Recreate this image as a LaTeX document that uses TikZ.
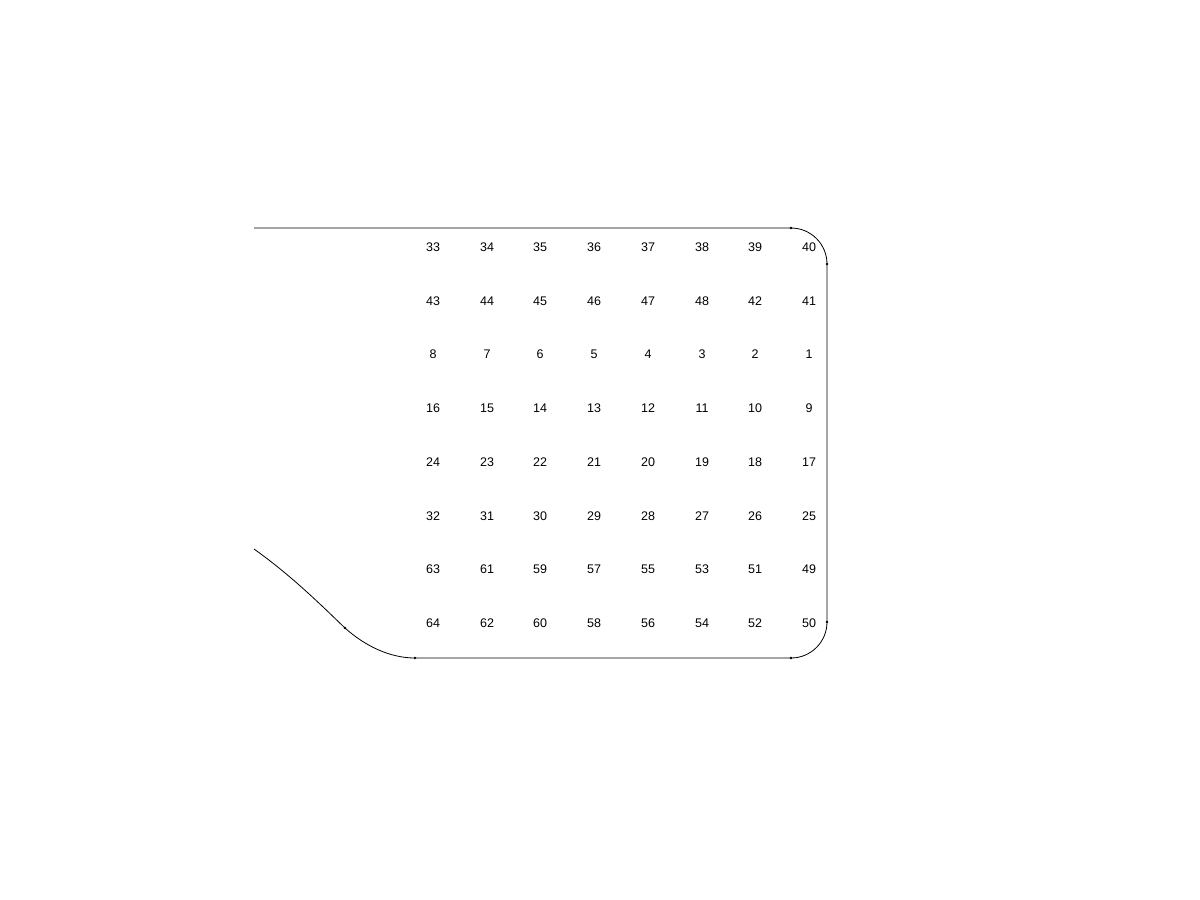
\documentclass[tikz,border=0pt]{standalone}
\usepackage{fontspec}
\setmainfont{Liberation Sans}
\begin{document}
\begin{tikzpicture}[x=1pt,y=-1pt,
  lbl/.style={font=\fontsize{12.5}{14}\selectfont, inner sep=0pt},
  outline/.style={draw=black, line width=0.8pt},
  jdot/.style={fill=black, circle, inner sep=0pt, minimum size=2.8pt}]
\useasboundingbox (0,0) rectangle (1200,900);
% grid labels
\def\colx{{433,487,540,594,648,702,755,809}}
\def\rowy{{247,301,354,408,462,516,569,623}}
\foreach \r/\labels in {0/{33,34,35,36,37,38,39,40},1/{43,44,45,46,47,48,42,41},2/{8,7,6,5,4,3,2,1},3/{16,15,14,13,12,11,10,9},4/{24,23,22,21,20,19,18,17},5/{32,31,30,29,28,27,26,25},6/{63,61,59,57,55,53,51,49},7/{64,62,60,58,56,54,52,50}}{
  \foreach \t [count=\c from 0] in \labels {
    \pgfmathsetmacro{\xx}{\colx[\c]}
    \pgfmathsetmacro{\yy}{\rowy[\r]}
    \node[lbl] (n\t) at (\xx,\yy) {\t};
  }
}
% outline junctions
\coordinate (s) at (254,228);
\coordinate (a) at (791,228);
\coordinate (b) at (827,264);
\coordinate (c) at (827,622);
\coordinate (d) at (791,658);
\coordinate (e) at (415,658);
\coordinate (f) at (345,628);
\coordinate (g) at (254,549);
\draw[outline] (s) -- (a) arc[start angle=-90, end angle=0, radius=36] -- (c)
  arc[start angle=0, end angle=90, radius=36] -- (e)
  .. controls (390,658) and (365,646) .. (f)
  .. controls (322,606) and (292,576) .. (g);
\foreach \p in {a,b,c,d,e,f} \node[jdot] at (\p) {};
\end{tikzpicture}
\end{document}
